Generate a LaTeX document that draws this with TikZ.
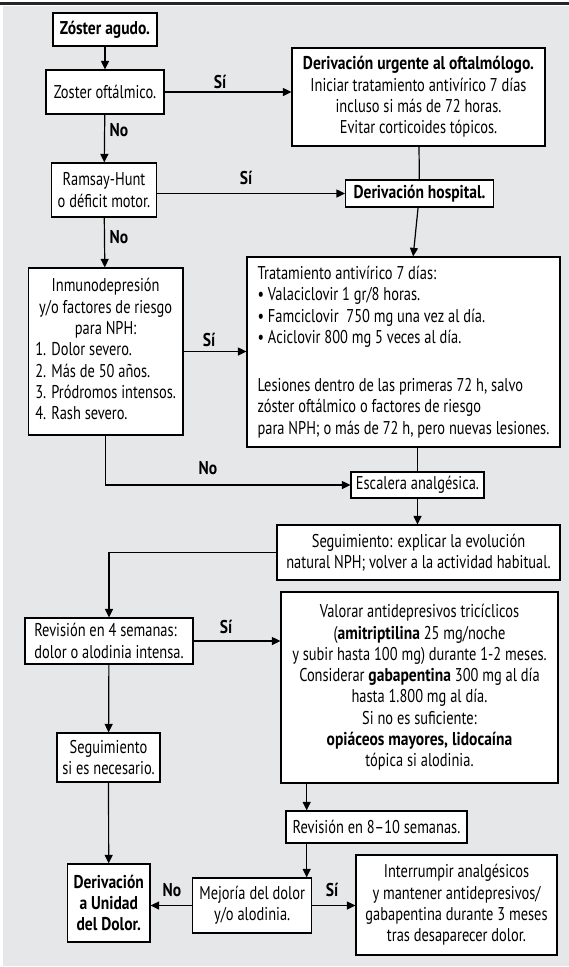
\documentclass[tikz,border=0pt]{standalone}
\usepackage{fontspec}
\setmainfont{PT Sans}[FakeStretch=0.78,BoldFeatures={FakeStretch=0.84}]
\usetikzlibrary{arrows.meta,calc}
\definecolor{bggray}{HTML}{E6E7E8}
\begin{document}
\begin{tikzpicture}[x=1pt,y=-1pt,
  every node/.style={font=\fontsize{18.5}{21.3}\selectfont},
  box/.style={draw=black,line width=1.2pt,fill=white,inner sep=0pt,align=center},
  arr/.style={draw=black,line width=1.2pt,-{Triangle[length=8.5pt,width=8pt]}},
  ln/.style={draw=black,line width=1.2pt},
  lbl/.style={font=\fontsize{18.5}{21.3}\selectfont\bfseries,inner sep=0pt}]
\fill[white] (0,0) rectangle (569,967);
\useasboundingbox (0,0) rectangle (569,967);
\fill[bggray] (3,6) rectangle (569,966);
\fill[black!85] (0,1.8) rectangle (569,5);

% boxes
\node[box,minimum width=104pt,minimum height=33pt] (zoster) at (105,29.5) {\textbf{Zóster agudo.}};
\node[box,minimum width=118pt,minimum height=44pt] (oft) at (105,92) {Zoster oftálmico.};
\node[box,minimum width=253pt,minimum height=98pt] (derurg) at (418.5,97) {\textbf{Derivación urgente al oftalmólogo.}\\ Iniciar tratamiento antivírico 7 días\\ incluso si más de 72 horas.\\ Evitar corticoides tópicos.};
\node[box,minimum width=105pt,minimum height=54pt] (ramsay) at (104,190) {Ramsay-Hunt\\ o déficit motor.};
\node[box,minimum width=148pt,minimum height=27pt] (hosp) at (419.5,193.5) {\textbf{Derivación hospital.}};
\node[box,minimum width=154.7pt,minimum height=167pt] (inmuno) at (105.65,351.5)
  {\begin{tabular}{@{}l@{}}\multicolumn{1}{@{}c@{}}{Inmunodepresión}\\ \multicolumn{1}{@{}c@{}}{y/o factores de riesgo}\\ \multicolumn{1}{@{}c@{}}{para NPH:}\\ 1. Dolor severo.\\ 2. Más de 50 años.\\ 3. Pródromos intensos.\\ 4. Rash severo.\end{tabular}};
\node[box,minimum width=313pt,minimum height=190pt,align=left] (trat) at (403.5,352)
  {Tratamiento antivírico 7 días:\\ • Valaciclovir 1 gr/8 horas.\\ • Famciclovir\ \ 750 mg una vez al día.\\ • Aciclovir 800 mg 5 veces al día.\\[27pt] Lesiones dentro de las primeras 72 h, salvo\\ zóster oftálmico o factores de riesgo\\ para NPH; o más de 72 h, pero nuevas lesiones.};
\node[box,minimum width=133pt,minimum height=26pt] (escal) at (417.5,485) {Escalera analgésica.};
\node[box,minimum width=283pt,minimum height=55pt] (seg) at (418.5,552.5) {Seguimiento: explicar la evolución\\ natural NPH; volver a la actividad habitual.};
\node[box,minimum width=168pt,minimum height=46pt,align=left] (rev4) at (109,641) {Revisión en 4 semanas:\\ dolor o alodinia intensa.};
\node[box,minimum width=277pt,minimum height=191pt] (valor) at (419.5,687.5) {Valorar antidepresivos tricíclicos\\ (\textbf{amitriptilina} 25 mg/noche\\ y subir hasta 100 mg) durante 1-2 meses.\\ Considerar \textbf{gabapentina} 300 mg al día\\ hasta 1.800 mg al día.\\ Si no es suficiente:\\ \textbf{opiáceos mayores, lidocaína}\\ tópica si alodinia.};
\node[box,minimum width=103pt,minimum height=49pt] (segnec) at (108.5,757.5) {Seguimiento\\ si es necesario.};
\node[box,minimum width=181pt,minimum height=32pt] (revb) at (376.5,827) {Revisión en 8–10 semanas.};
\node[box,minimum width=119pt,minimum height=55pt] (mejor) at (252.2,905.5) {Mejoría del dolor\\ y/o alodinia.};
\node[box,minimum width=82.5pt,minimum height=78pt] (derun) at (108.75,903) {\textbf{Derivación}\\ \textbf{a Unidad}\\ \textbf{del Dolor.}};
\node[box,minimum width=201pt,minimum height=100pt] (interr) at (456.5,905) {Interrumpir analgésicos\\ y mantener antidepresivos/\\ gabapentina durante 3 meses\\ tras desaparecer dolor.};

\coordinate (vx) at (306.7,0);

% connectors
\draw[arr] (zoster) -- (oft);
\draw[arr] (oft.east) -- (oft.east -| derurg.west);
\draw[arr] (oft) -- (ramsay);
\draw[arr] (ramsay.east |- hosp.west) -- (hosp.west);
\draw[ln] (derurg) -- (hosp);
\draw[arr] (hosp) -- (trat);
\draw[arr] (ramsay) -- (inmuno);
\draw[arr] (inmuno.east) -- (inmuno.east -| trat.west);
\draw[arr] (inmuno.south) |- (escal.west);
\draw[ln] (trat.south -| escal.north) -- (escal.north);
\draw[arr] (escal.south) -- (escal.south |- seg.north);
\draw[arr] (seg.west) -| (rev4.north);
\draw[arr] (rev4.east) -- (rev4.east -| valor.west);
\draw[arr] (rev4) -- (segnec);
\draw[arr] (segnec) -- (derun);
\draw[arr] (valor.south -| vx) -- (revb.north -| vx);
\draw[arr] (revb.south -| vx) -- (mejor.north -| vx);
\draw[arr] (mejor.west) -- (mejor.west -| derun.east);
\draw[arr] (mejor.east) -- (mejor.east -| interr.west);

% labels
\node[lbl] (s1) at (220,82) {Sí};
\node[lbl] (n1) at (119,130) {No};
\node[lbl] (s2) at (246,178) {Sí};
\node[lbl] (n2) at (119,237) {No};
\node[lbl] (s3) at (209,340) {Sí};
\node[lbl] (n3) at (208,468) {No};
\node[lbl] (s4) at (226,627) {Sí};
\node[lbl] (n5) at (172,890) {No};
\node[lbl] (s5) at (332,890) {Sí};
\end{tikzpicture}
\end{document}
